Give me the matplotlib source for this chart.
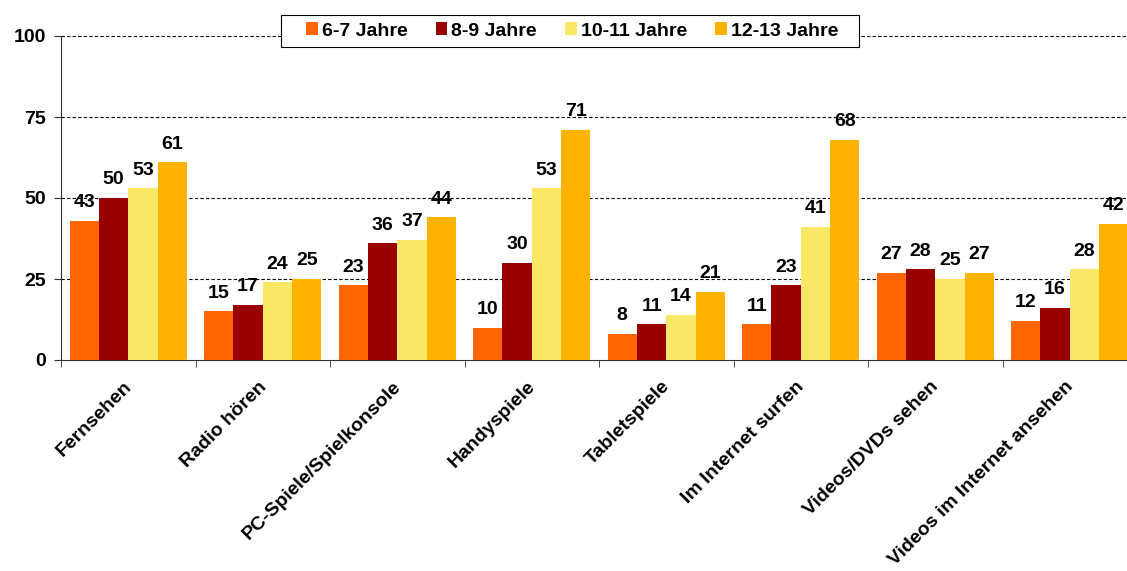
import matplotlib
matplotlib.use("Agg")
import matplotlib.pyplot as plt
import matplotlib.transforms as mtransforms
from matplotlib.patches import Rectangle
import numpy as np

categories = ["Fernsehen", "Radio hören", "PC-Spiele/Spielkonsole", "Handyspiele",
              "Tabletspiele", "Im Internet surfen", "Videos/DVDs sehen",
              "Videos im Internet ansehen"]
series_names = ["6-7 Jahre", "8-9 Jahre", "10-11 Jahre", "12-13 Jahre"]
v_6_7 = [43, 15, 23, 10, 8, 11, 27, 12]
v_8_9 = [50, 17, 36, 30, 11, 23, 28, 16]
v_10_11 = [53, 24, 37, 53, 14, 41, 25, 28]
v_12_13 = [61, 25, 44, 71, 21, 68, 27, 42]
yticks = [0, 25, 50, 75, 100]

colors = ["#FF6600", "#990000", "#FAE766", "#FFB300"]

plt.rcParams['font.family'] = ['Liberation Sans', 'DejaVu Sans']
plt.rcParams['font.weight'] = 'bold'
FS = 14

fig = plt.figure(figsize=(11.27, 5.71), dpi=100)
ax = fig.add_axes([61/1127, (571-360)/571, (134.5*8)/1127, (360-36)/571])

x = np.arange(len(categories))
w = 0.218
all_series = [v_6_7, v_8_9, v_10_11, v_12_13]
for i, (vals, name, c) in enumerate(zip(all_series, series_names, colors)):
    pos = x + (i - 1.5) * w
    ax.bar(pos, vals, width=w, color=c, label=name, zorder=3, linewidth=0)
    for p, v in zip(pos, vals):
        ax.annotate(str(v), (p, v), xytext=(0, 7), textcoords='offset points',
                    ha='center', va='bottom', fontsize=FS, fontweight='bold')

ax.set_xlim(-0.5, len(categories) - 0.5)
ax.set_ylim(0, 100)
ax.set_yticks(yticks)
ax.set_yticklabels([str(t) for t in yticks], fontsize=FS, fontweight='bold')
for t in yticks[1:]:
    ax.axhline(t, color='black', linestyle=(0, (3, 2)), linewidth=0.8, zorder=1)

# category labels (rotated, placed manually relative to the x axis)
ax.set_xticks(x)
ax.set_xticklabels([])
ax.tick_params(axis='x', which='major', length=0)
offset = mtransforms.ScaledTranslation(-5/100, -18/100, fig.dpi_scale_trans)
for xi, cat in zip(x, categories):
    ax.text(xi, 0, cat, transform=ax.get_xaxis_transform() + offset,
            rotation=45, ha='right', va='top', rotation_mode='anchor',
            fontsize=FS, fontweight='bold', clip_on=False)

ax.set_xticks(np.arange(len(categories) + 1) - 0.5, minor=True)
ax.tick_params(axis='x', which='minor', length=5, direction='out', color='#333333')
ax.tick_params(axis='y', length=5, direction='out', color='#333333', pad=6)

for s in ['top', 'right']:
    ax.spines[s].set_visible(False)
ax.spines['left'].set_color('#333333')
ax.spines['bottom'].set_color('#333333')

# legend frame (white box covering the gridline)
W, H = 1127, 571
frame = Rectangle((281/W, 1 - 47/H), (859-281)/W, (47-15)/H, transform=fig.transFigure,
                  facecolor='white', edgecolor='black', linewidth=0.8, zorder=4)
fig.patches.append(frame)

leg = fig.legend(loc='center', bbox_to_anchor=(572/W, 1 - 31/H), ncol=4,
                 fontsize=FS, frameon=False,
                 handlelength=0.6, handleheight=0.6, handletextpad=0.2,
                 columnspacing=1.45, borderpad=0.2)
leg.set_zorder(5)
for t in leg.get_texts():
    t.set_fontweight('bold')

fig.savefig("out.png", dpi=100)
